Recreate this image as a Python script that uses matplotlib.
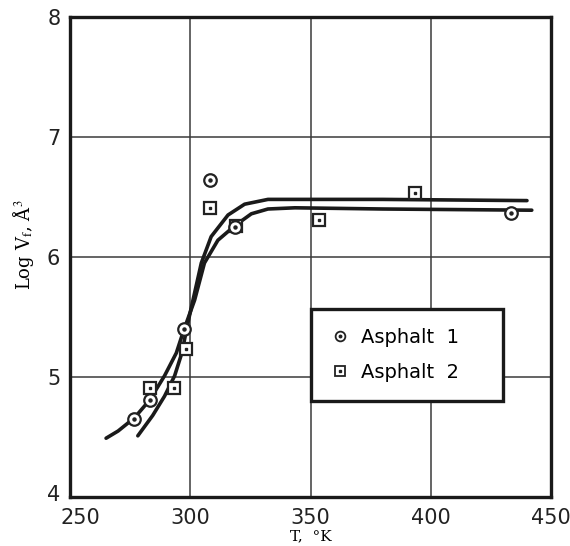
import matplotlib
matplotlib.use("Agg")
import matplotlib.pyplot as plt
from matplotlib.lines import Line2D
import matplotlib.transforms as mtransforms

plt.rcParams["mathtext.fontset"] = "stix"

# measured points
t_asph1 = [276.8, 283.2, 297.5, 308.1, 318.6, 433.3]
v_asph1 = [4.65, 4.81, 5.40, 6.64, 6.25, 6.37]
t_asph2 = [283.3, 293.3, 298.1, 308.3, 318.9, 353.5, 393.3]
v_asph2 = [4.91, 4.91, 5.23, 6.41, 6.26, 6.31, 6.53]

# fitted curves
t_curve1 = [265.0, 270.0, 276.8, 283.2, 289.3, 294.2, 297.3, 301.8, 305.9,
            311.5, 318.5, 325.4, 332.3, 343.5, 380.0, 442.0]
v_curve1 = [4.49, 4.55, 4.66, 4.81, 5.01, 5.20, 5.39, 5.64, 5.95,
            6.14, 6.26, 6.36, 6.40, 6.41, 6.40, 6.39]
t_curve2 = [278.2, 284.4, 289.3, 293.5, 296.5, 299.0, 301.8, 304.6, 308.7,
            315.7, 322.6, 332.3, 343.5, 380.0, 440.0]
v_curve2 = [4.51, 4.68, 4.84, 5.01, 5.20, 5.45, 5.70, 5.95, 6.17,
            6.35, 6.44, 6.48, 6.48, 6.48, 6.47]

labels = ["Asphalt  1", "Asphalt  2"]
ink = "#1a1a1a"

fig = plt.figure(figsize=(5.7, 5.46), dpi=100)
ax = fig.add_axes([0.1228, 0.0897, 0.8439, 0.8792])

ax.plot(t_curve1, v_curve1, color=ink, lw=2.6, solid_capstyle="round", zorder=3)
ax.plot(t_curve2, v_curve2, color=ink, lw=2.6, solid_capstyle="round", zorder=3)

ax.plot(t_asph1, v_asph1, "o", ms=9, mfc="white", mec="#222222", mew=1.6, ls="none", zorder=5)
ax.plot(t_asph1, v_asph1, "o", ms=2.2, color="#222222", ls="none", zorder=6)
ax.plot(t_asph2, v_asph2, "s", ms=8.5, mfc="white", mec="#222222", mew=1.6, ls="none", zorder=4)
ax.plot(t_asph2, v_asph2, "s", ms=2.0, color="#222222", ls="none", zorder=4.5)

ax.set_xlim(250, 450)
ax.set_ylim(4, 8)
ax.set_xticks([250, 300, 350, 400, 450])
ax.set_yticks([4, 5, 6, 7, 8])
ax.grid(True, color="#3a3a3a", lw=1.1)
ax.set_axisbelow(True)
ax.tick_params(length=0, labelsize=15, colors="#222222")
ax.tick_params(axis="x", pad=8)
ax.tick_params(axis="y", pad=7)
for lbl in ax.get_xticklabels() + ax.get_yticklabels():
    lbl.set_fontfamily("DejaVu Sans")
# first x label sits a little to the right of the corner, the "4" a little up
xl0 = ax.get_xticklabels()[0]
xl0.set_transform(xl0.get_transform() + mtransforms.ScaledTranslation(10 / 100, 0, fig.dpi_scale_trans))
yl0 = ax.get_yticklabels()[0]
yl0.set_transform(yl0.get_transform() + mtransforms.ScaledTranslation(0, 4 / 100, fig.dpi_scale_trans))
for sp in ax.spines.values():
    sp.set_linewidth(2.4)
    sp.set_color(ink)

ax.set_xlabel("T,  °K", fontfamily="DejaVu Serif", fontsize=11, labelpad=1)
ax.set_ylabel("Log V$_{\\mathrm{f}}$, Å$^3$", fontfamily="DejaVu Serif", fontsize=13)
ax.yaxis.set_label_coords(-0.07, 0.525)

h1 = (Line2D([], [], marker="o", ms=7, mfc="white", mec="#222222", mew=1.3, ls="none"),
      Line2D([], [], marker="o", ms=1.8, color="#222222", ls="none"))
h2 = (Line2D([], [], marker="s", ms=6.5, mfc="white", mec="#222222", mew=1.3, ls="none"),
      Line2D([], [], marker="s", ms=1.6, color="#222222", ls="none"))
leg = ax.legend([h1, h2], labels,
                loc="lower left", bbox_to_anchor=(0.501, 0.2, 0.40, 0.2), mode="expand",
                fontsize=14, frameon=True, fancybox=False, borderpad=1.0,
                handletextpad=0.55, handlelength=1.0, labelspacing=0.8,
                borderaxespad=0, framealpha=1)
leg.get_frame().set_edgecolor(ink)
leg.get_frame().set_linewidth(2.4)
leg.set_zorder(10)

fig.savefig("out.png", dpi=100)
